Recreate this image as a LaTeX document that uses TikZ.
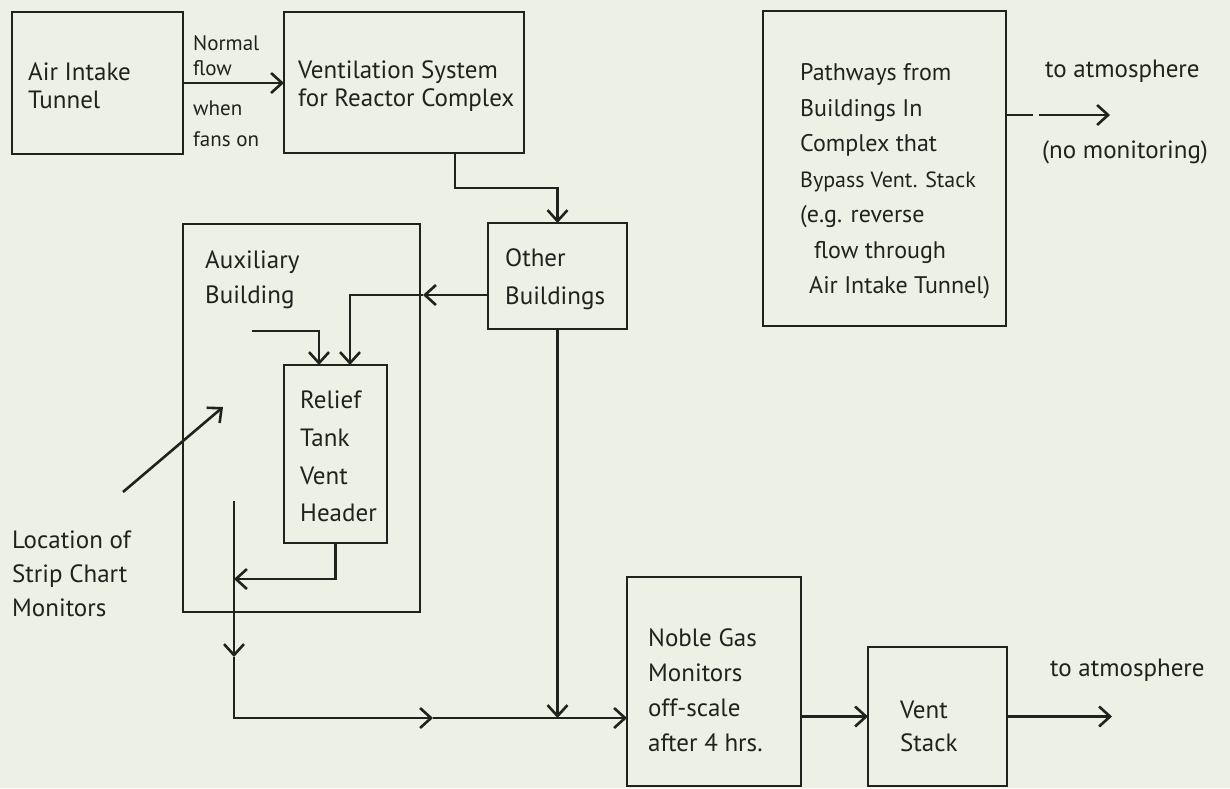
\documentclass[tikz,border=0pt]{standalone}
\usepackage{fontspec}
\setmainfont{PT Sans}
\usetikzlibrary{arrows.meta}
\definecolor{paper}{HTML}{EDF0E5}
\definecolor{ink}{HTML}{1E231E}
\begin{document}
\begin{tikzpicture}[x=1pt,y=-1pt,
  box/.style={draw=ink,line width=2.8pt,rectangle,inner sep=0pt,outer sep=0pt},
  lbl/.style={text=ink,align=left,anchor=west,inner sep=0pt},
  fs/.style 2 args={font=\fontsize{#1pt}{#2pt}\selectfont},
  wire/.style={draw=ink,line width=2.6pt},
  arr/.style={draw=ink,line width=2.6pt,-{Straight Barb[length=11pt,width=20pt,line width=2.6pt]}}]
\fill[paper] (0,0) rectangle (1230,788);
\useasboundingbox (0,0) rectangle (1230,788);

% boxes
\node[box,minimum width=171pt,minimum height=142pt] (ait) at (97.5,83) {};
\node[box,minimum width=240pt,minimum height=141pt] (vent) at (404,82.5) {};
\node[box,minimum width=243pt,minimum height=315pt] (path) at (884.5,168.5) {};
\node[box,minimum width=139pt,minimum height=106pt] (other) at (557.5,276) {};
\node[box,minimum width=237pt,minimum height=388pt] (aux) at (301.5,418) {};
\node[box,minimum width=103pt,minimum height=178pt] (relief) at (335.5,454) {};
\node[box,minimum width=174pt,minimum height=209pt] (noble) at (714,681.5) {};
\node[box,minimum width=139pt,minimum height=139pt] (stack) at (937.5,716.5) {};

% texts
\node[lbl,fs={25}{28}] (ait-t) at (28,86) {Air Intake\\Tunnel};
\node[lbl,fs={25}{28}] (vent-t) at (298,86) {Ventilation System\\for Reactor Complex};
\node[lbl,fs={21}{25}] (nf-t) at (193,55.5) {Normal\\flow};
\node[lbl,fs={21}{31}] (wf-t) at (193,124) {when\\fans on};
\node[lbl,fs={24}{35.5}] (path-t) at (800,181.5) {Pathways from\\Buildings In\\Complex that\\{\fontsize{22pt}{35.5pt}\selectfont Bypass Vent. Stack}\\(e.g. reverse\\\hspace*{14pt}flow through\\\hspace*{9pt}Air Intake Tunnel)};
\node[lbl,fs={25}{30}] (atm1-t) at (1045,71) {to atmosphere};
\node[lbl,fs={25}{30}] (nomon-t) at (1042,152) {(no monitoring)};
\node[lbl,fs={25}{38}] (other-t) at (505,279) {Other\\Buildings};
\node[lbl,fs={25}{35}] (aux-t) at (205,279.5) {Auxiliary\\Building};
\node[lbl,fs={25}{37.7}] (relief-t) at (300,456.5) {Relief\\Tank\\Vent\\Header};
\node[lbl,fs={25}{34}] (loc-t) at (12,574) {Location of\\Strip Chart\\Monitors};
\node[lbl,fs={25}{35}] (noble-t) at (648,690) {Noble Gas\\Monitors\\off-scale\\after 4 hrs.};
\node[lbl,fs={25}{33}] (stack-t) at (900,726.5) {Vent\\Stack};
\node[lbl,fs={25}{30}] (atm2-t) at (1050,670) {to atmosphere};

% free ends and junctions
\coordinate (oa) at ([yshift=-19pt]other.west);
\coordinate (ma) at ([xshift=3pt]oa -| aux.east);
\coordinate (rin1) at ([xshift=14.5pt]relief.north);
\coordinate (rin2) at ([xshift=-16.5pt]relief.north);
\coordinate (src) at (252,331);
\coordinate (hj) at (234,579);
\coordinate (vtop) at (234,501);
\coordinate (vmid) at (234,657);
\coordinate (hmid) at (433,718);
\coordinate (atm1) at (1110,115);
\coordinate (atm2) at (1112,716.5);
\coordinate (locs) at (123,492);
\coordinate (loce) at (223,407);

% connectors
\draw[arr] (ait.east) -- (ait.east -| vent.west);
\draw[arr] ([xshift=51pt]vent.south) -- ++(0,35) -| (other.north);
\draw[arr] (oa) -- (ma);
\draw[arr] (ma) -- (ma -| rin1) -- (rin1);
\draw[arr] (src) -| (rin2);
\draw[arr] (relief.south) |- (hj);
\draw[arr] (vtop) -- (vmid);
\draw[arr] (vmid) |- (hmid);
\draw[arr] (hmid) -- (hmid -| noble.west);
\draw[arr] (other.south) -- (other.south |- hmid);
\draw[arr] (noble.east |- stack.west) -- (stack.west);
\draw[arr] (stack.east) -- (atm2);
\draw[arr,dash pattern=on 27pt off 6pt on 200pt] ([yshift=53.5pt]path.east) -- (atm1);
\draw[arr] (locs) -- (loce);
\end{tikzpicture}
\end{document}
